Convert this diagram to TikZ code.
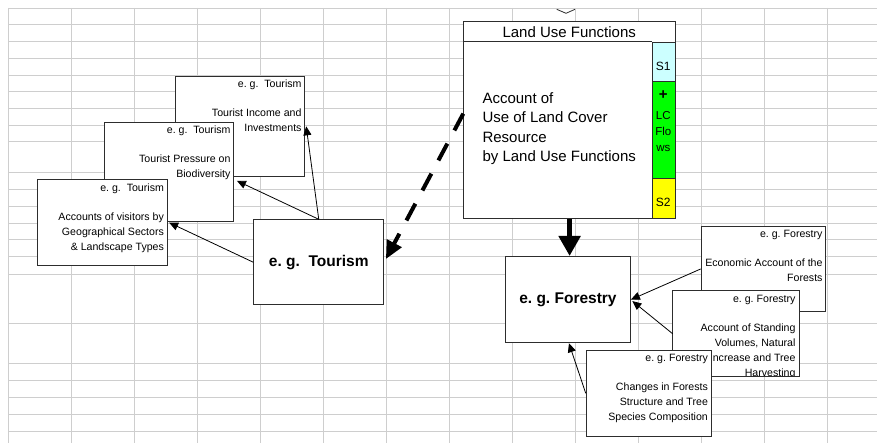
\documentclass[tikz,border=0pt]{standalone}
\usepackage{fontspec}
\setmainfont{Liberation Sans}
\usetikzlibrary{arrows.meta}
\definecolor{gridgray}{RGB}{206,206,206}
\definecolor{boxedge}{RGB}{45,45,45}
\definecolor{sone}{RGB}{204,255,255}
\definecolor{lcgreen}{RGB}{0,255,0}
\definecolor{stwo}{RGB}{255,255,0}
\frenchspacing
\begin{document}
\begin{tikzpicture}[x=1pt,y=-1pt,
  gridline/.style={draw=gridgray, line width=1pt},
  notebox/.style={draw=boxedge, line width=0.9pt, fill=white, anchor=north west, inner sep=0pt},
  notetext/.style={anchor=north east, align=right, inner sep=0pt,
    font=\fontsize{10.6}{15}\selectfont, xshift=-3.5pt, yshift=-4pt},
  topic/.style={font=\fontsize{15.5}{18}\selectfont\bfseries},
  cell/.style={draw=boxedge, line width=0.9pt, anchor=north west, inner sep=0pt, minimum width=23.3pt},
  celltext/.style={inner sep=0pt, font=\fontsize{11.5}{12}\selectfont},
  link/.style={draw=black, line width=0.8pt, -{Triangle[length=9pt,width=8pt]}},
  dasharrow/.style={draw=black, line width=4pt, dash pattern=on 19pt off 15pt,
    -{Triangle[length=18pt,width=16pt]}},
  bigarrow/.style={draw=black, line width=5pt, -{Triangle[length=20pt,width=21pt]}}
]
% page and spreadsheet grid
\fill[white] (0,0) rectangle (877,443);
\useasboundingbox (0,0) rectangle (877,443);
\foreach \gx in {8,71,...,827} \draw[gridline] (\gx,8) -- (\gx,443);
\foreach \gy in {8.3,25,41.7,58.3,75.5,92,108.5,125.5,142,173,190,207,223.5,240,256.5,275,323,363,380,397,414,431}
  \draw[gridline] (8,\gy) -- (877,\gy);

% small mark at the top edge
\coordinate (cv) at (566,13.3);
\draw[boxedge, line width=0.8pt] ([shift={(-9.3,-4)}]cv) -- (cv) -- ([shift={(9,-4)}]cv);

% tourism accounts
\node[notebox, minimum width=129.3pt, minimum height=99.7pt] (t3) at (175,76) {};
\node[notetext] (t3txt) at (t3.north east) {e. g.\ \ Tourism\\[14pt]Tourist Income and\\Investments};
\node[notebox, minimum width=129.3pt, minimum height=99.3pt] (t2) at (104,121.7) {};
\node[notetext] (t2txt) at (t2.north east) {e. g.\ \ Tourism\\[14pt]Tourist Pressure on\\Biodiversity};
\node[notebox, minimum width=130pt, minimum height=85.7pt] (t1) at (36.7,179.3) {};
\node[notetext] (t1txt) at (t1.north east) {e. g.\ \ Tourism\\[14pt]Accounts of visitors by\\Geographical Sectors\\\& Landscape Types};
\node[notebox, topic, minimum width=130pt, minimum height=85pt] (tour) at (253.3,219.3) {e. g.\ \ Tourism};

\draw[link] (tour.north) -- ([xshift=1pt]t3.east);
\draw[link] (tour.north) -- ([xshift=2.7pt,yshift=-9pt]t2.east);
\draw[link] (tour.west) -- ([xshift=1.5pt]t1.east);

% land use functions account
\node[notebox, minimum width=211.7pt, minimum height=197.6pt] (lu) at (463.3,20.7) {};
\node[cell, fill=sone, minimum height=39.3pt] (s1) at (651.7,41.7) {};
\node[cell, fill=lcgreen, minimum height=96.7pt] (lc) at (651.7,81) {};
\node[cell, fill=stwo, minimum height=40.6pt] (s2) at (651.7,177.7) {};
\draw[boxedge, line width=0.9pt] (lu.west |- s1.north) -- (s1.north west);
\node[inner sep=0pt, font=\fontsize{15}{18}\selectfont] (luhead) at (569.2,31.8) {Land Use Functions};
\node[inner sep=0pt, anchor=west, align=left, font=\fontsize{15}{19.5}\selectfont] (lubody) at (482.3,128.8)
  {Account of\\Use of Land Cover\\Resource\\by Land Use Functions};
\node[celltext, font=\fontsize{12}{12}\selectfont] (s1txt) at (663.3,66.7) {S1};
\node[celltext, font=\fontsize{15}{15}\selectfont\bfseries] (plus) at (663.3,95.5) {+};
\node[celltext] (lctxt) at (663.3,116) {LC};
\node[celltext] (flotxt) at (663.3,131.7) {Flo};
\node[celltext] (wstxt) at (663.3,148.3) {ws};
\node[celltext, font=\fontsize{12}{12}\selectfont] (s2txt) at (663.3,202.3) {S2};

% forestry accounts
\node[notebox, minimum width=124.6pt, minimum height=85pt] (f1) at (700.7,226) {};
\node[notetext] (f1txt) at (f1.north east) {e. g. Forestry\\[14pt]Economic Account of the\\Forests};
% this box clips its own text, so the frame is stroked after the text
\node[notebox, draw=none, minimum width=125.6pt, minimum height=85.3pt] (f2) at (672.7,290.7) {};
\begin{scope}
  \clip (f2.north west) rectangle (f2.south east);
  \node[notetext] (f2txt) at (f2.north east) {e. g. Forestry\\[14pt]Account of Standing\\Volumes, Natural\\Increase and Tree\\Harvesting};
\end{scope}
\draw[boxedge, line width=0.9pt] (f2.north west) rectangle (f2.south east);
\node[notebox, minimum width=125pt, minimum height=85.7pt] (f3) at (585.7,350) {};
\node[notetext] (f3txt) at (f3.north east) {e. g. Forestry\\[14pt]Changes in Forests\\Structure and Tree\\Species Composition};
\node[notebox, topic, minimum width=125pt, minimum height=86.3pt] (fo) at (505,256) {e. g. Forestry};

\draw[link] (f1.west) -- (fo.east);
\draw[link] (f2.west) -- ([xshift=1.5pt,yshift=-1.5pt]fo.east);
\draw[link] (f3.west) -- ([xshift=1pt]fo.south);

% flows between the accounts
\draw[dasharrow] ([yshift=6.3pt]lu.west) -- ([xshift=1.7pt,yshift=3.2pt]tour.east);
\draw[bigarrow] (lu.south) -- (lu.south |- fo.north);
\end{tikzpicture}
\end{document}
